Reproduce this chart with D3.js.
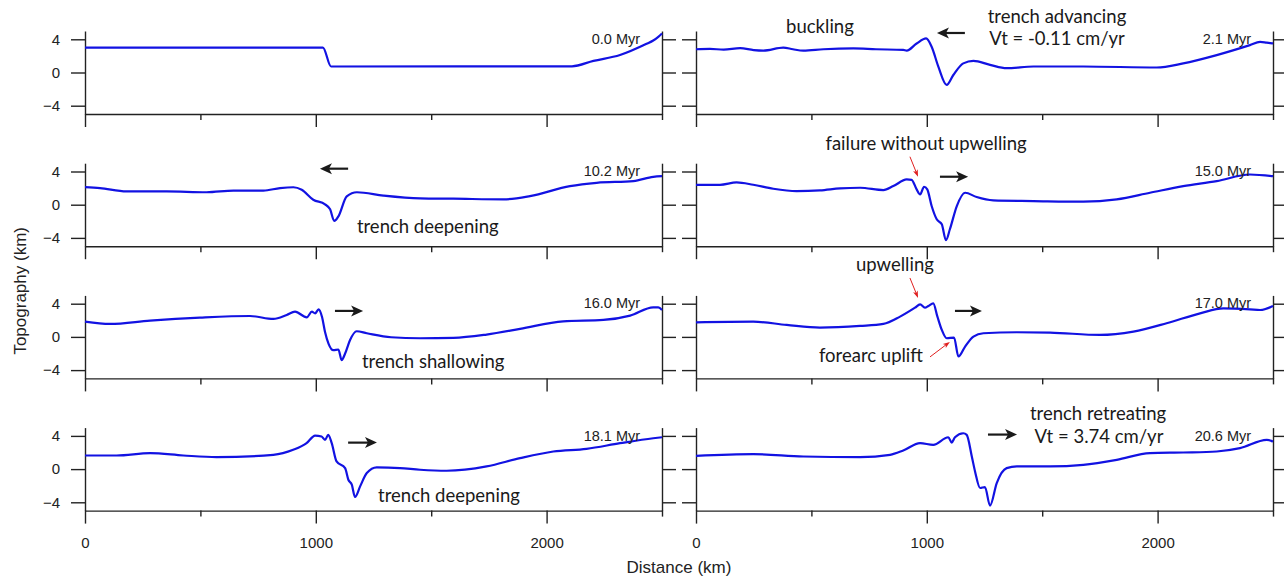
<!DOCTYPE html>
<html><head><meta charset="utf-8">
<script src="https://cdn.jsdelivr.net/npm/d3@7"></script>
<style>body{margin:0;background:#fff;} svg{display:block;}</style>
</head><body><svg id="c" width="1284" height="580"></svg>
<script>
// ---------- data ----------
const timeLabels = ["0.0 Myr","2.1 Myr","10.2 Myr","15.0 Myr","16.0 Myr","17.0 Myr","18.1 Myr","20.6 Myr"];
const yTicks = [-4, 0, 4];
const xMajorTicks = [0, 1000, 2000];
const xMinorTicks = [500, 1500, 2500];

const topo00 = [[0,3.0],[1031,3.0],[1066,0.72],[2110,0.75],[2203,1.4],[2318,2.1],[2433,3.45],[2462,3.85],[2484,4.3],[2500,4.7]];
const topo21 = [[0,2.8],[60,2.85],[120,2.75],[191,2.93],[250,2.7],[292,2.64],[378,3.0],[420,2.8],[465,2.64],[552,2.8],[682,2.9],[780,2.8],[898,2.72],[913,2.64],[956,3.5],[997,4.1],[1021,3.1],[1050,0.7],[1086,-1.5],[1115,-0.3],[1158,1.1],[1202,1.4],[1274,0.92],[1346,0.52],[1462,0.72],[1678,0.72],[1996,0.6],[2111,1.1],[2256,2.1],[2400,3.3],[2444,3.7],[2473,3.6],[2500,3.5]];
const topo102 = [[0,2.12],[65,2.0],[180,1.6],[354,1.6],[527,1.5],[643,1.7],[773,1.7],[845,2.0],[903,2.1],[939,1.8],[989,0.6],[1040,0.04],[1062,-0.56],[1080,-1.96],[1098,-1.4],[1134,1.0],[1178,1.5],[1293,1.1],[1452,0.76],[1596,0.72],[1812,0.64],[1928,1.04],[2101,2.24],[2217,2.64],[2376,2.84],[2462,3.36],[2500,3.44]];
const topo150 = [[0,2.4],[104,2.4],[176,2.68],[248,2.4],[335,1.92],[436,1.64],[537,1.72],[624,1.96],[711,2.04],[812,1.76],[855,2.24],[913,3.04],[934,3.0],[956,1.84],[971,1.24],[988,2.16],[1002,1.84],[1021,-0.16],[1043,-1.76],[1065,-2.36],[1083,-4.28],[1100,-2.96],[1130,-0.16],[1166,1.44],[1216,0.92],[1288,0.52],[1462,0.44],[1678,0.36],[1823,0.64],[1967,1.44],[2111,2.24],[2256,2.84],[2400,3.64],[2500,3.44]];
const topo160 = [[0,1.84],[108,1.56],[282,1.96],[498,2.32],[715,2.52],[816,2.16],[874,2.64],[910,3.04],[961,2.36],[983,3.04],[997,2.84],[1012,3.32],[1027,2.4],[1040,0.6],[1055,-0.8],[1076,-1.6],[1098,-1.52],[1112,-2.8],[1127,-2.0],[1148,-0.4],[1177,0.68],[1221,0.44],[1326,-0.04],[1452,-0.16],[1596,-0.12],[1740,0.28],[1885,0.96],[2072,1.88],[2246,2.04],[2362,2.56],[2462,3.56],[2484,3.56],[2500,3.24]];
const topo170 = [[0,1.76],[248,1.84],[393,1.44],[537,1.12],[711,1.32],[812,1.56],[884,2.44],[949,3.52],[971,3.92],[992,3.52],[1007,3.72],[1028,4.04],[1046,2.44],[1065,0.84],[1086,-0.16],[1118,-0.08],[1137,-2.36],[1166,-1.16],[1202,0.04],[1245,0.44],[1390,0.56],[1534,0.52],[1750,0.24],[1895,0.64],[2039,1.64],[2184,2.84],[2285,3.44],[2400,3.32],[2444,3.24],[2500,3.72]];
const topo181 = [[0,1.64],[137,1.64],[282,1.92],[426,1.64],[570,1.44],[816,1.72],[902,2.32],[960,3.12],[997,4.04],[1025,3.92],[1040,3.52],[1054,4.12],[1069,3.12],[1090,0.92],[1127,0.12],[1141,-1.28],[1156,-1.88],[1170,-3.36],[1192,-2.08],[1221,-0.48],[1264,0.2],[1365,0.12],[1452,-0.08],[1567,-0.2],[1740,0.32],[1885,1.32],[2029,2.12],[2173,2.44],[2318,3.12],[2462,3.72],[2500,3.84]];
const topo206 = [[0,1.6],[248,1.8],[465,1.52],[711,1.44],[841,1.72],[898,2.24],[971,3.12],[1028,2.92],[1093,3.84],[1108,3.2],[1122,3.84],[1158,4.32],[1173,4.12],[1195,1.52],[1209,-0.28],[1231,-2.28],[1252,-2.16],[1274,-4.4],[1303,-1.68],[1346,0.12],[1390,0.32],[1534,0.32],[1678,0.52],[1823,1.12],[1967,1.92],[2111,2.0],[2256,2.12],[2357,2.52],[2473,3.52],[2500,3.32]];
const profiles = [topo00, topo21, topo102, topo150, topo160, topo170, topo181, topo206];

// annotations in data coordinates (panel index, distance km, topography km)
const labels = [
  [1, 537, 4.76, "buckling", "middle"],
  [1, 1564, 5.95, "trench advancing", "middle"],
  [1, 1564, 3.35, "Vt = -0.11 cm/yr", "middle"],
  [2, 1178, -3.37, "trench deepening", "start"],
  [3, 997, 6.63, "failure without upwelling", "middle"],
  [4, 1200, -3.73, "trench shallowing", "start"],
  [5, 862, 7.95, "upwelling", "middle"],
  [5, 758, -3.0, "forearc uplift", "middle"],
  [6, 1270, -3.92, "trench deepening", "start"],
  [7, 1742, 5.95, "trench retreating", "middle"],
  [7, 1746, 3.15, "Vt = 3.74 cm/yr", "middle"]
];
const blackArrows = [
  [1, 1165, 1044, 4.76],
  [2, 1140, 1018, 4.34],
  [3, 1057, 1179, 3.37],
  [4, 1083, 1205, 3.13],
  [5, 1122, 1239, 3.13],
  [6, 1140, 1265, 3.19],
  [7, 1265, 1391, 4.16]
];
const redArrows = [
  [3, 927, 5.78, 962, 3.37],
  [5, 927, 7.1, 962, 4.7],
  [5, 1014, -2.41, 1100, -0.6]
];

// ---------- layout ----------
const colLeft = [85, 696], panelW = 577, panelH = 83;
const rowTop = [31, 163.2, 295.4, 427.6];
const xDomain = [0, 2500], yDomain = [-5, 5];
const axisColor = "#222", lineColor = "#1212e2";
const tickFont = "'Liberation Sans', Arial, sans-serif";
const annFont = "Lato, 'Open Sans', sans-serif";

const svg = d3.select("#c");
const scales = [];

profiles.forEach((data, i) => {
  const col = i % 2, row = Math.floor(i / 2);
  const x = d3.scaleLinear().domain(xDomain).range([colLeft[col], colLeft[col] + panelW]);
  const y = d3.scaleLinear().domain(yDomain).range([rowTop[row] + panelH, rowTop[row]]);
  scales.push({x, y});
  const g = svg.append("g");

  const la = g.append("g").attr("transform", `translate(${x(0)},0)`)
    .call(d3.axisLeft(y).tickValues(yTicks).tickSize(14).tickPadding(11).tickSizeOuter(0)
      .tickFormat(col === 0 ? (d => d3.format("d")(d)) : ""));
  const ra = g.append("g").attr("transform", `translate(${x(2500)},0)`)
    .call(d3.axisRight(y).tickValues(yTicks).tickSize(14).tickSizeOuter(0).tickFormat(""));
  const ba = g.append("g").attr("transform", `translate(0,${y(-5)})`)
    .call(d3.axisBottom(x).tickValues(xMajorTicks).tickSize(13).tickPadding(14).tickSizeOuter(0)
      .tickFormat(row === 3 ? (d => d) : ""));
  const bm = g.append("g").attr("transform", `translate(0,${y(-5)})`)
    .call(d3.axisBottom(x).tickValues(xMinorTicks).tickSize(6).tickSizeOuter(0).tickFormat(""));
  bm.select(".domain").remove();
  [la, ra, ba, bm].forEach(a => {
    a.selectAll("path,line").attr("stroke", axisColor).attr("stroke-width", 1.4);
    a.selectAll("text").attr("fill", axisColor).style("font-family", tickFont).style("font-size", "15px");
  });

  g.append("path").datum(data)
    .attr("fill", "none").attr("stroke", lineColor).attr("stroke-width", 2.2)
    .attr("stroke-linejoin", "round")
    .attr("d", d3.line().x(d => x(d[0])).y(d => y(d[1])).curve(d3.curveMonotoneX));

  g.append("text").attr("x", x(2405)).attr("y", y(3.43))
    .attr("text-anchor", "end").attr("fill", "#222")
    .style("font-family", tickFont).style("font-size", "14.5px")
    .text(timeLabels[i]);
});

labels.forEach(([p, dx, dy, t, anchor]) => {
  const {x, y} = scales[p];
  svg.append("text").attr("x", x(dx)).attr("y", y(dy)).attr("text-anchor", anchor)
    .attr("fill", "#1a1a1a").style("font-family", annFont).style("font-size", "18.5px").text(t);
});

function arrow(x1, y1, x2, y2, color, width, headLen, headW) {
  const ang = Math.atan2(y2 - y1, x2 - x1);
  const bx = x2 - headLen * Math.cos(ang), by = y2 - headLen * Math.sin(ang);
  svg.append("line").attr("x1", x1).attr("y1", y1)
    .attr("x2", x2 - headLen * 0.6 * Math.cos(ang)).attr("y2", y2 - headLen * 0.6 * Math.sin(ang))
    .attr("stroke", color).attr("stroke-width", width);
  const px = -Math.sin(ang), py = Math.cos(ang);
  const nx = x2 - headLen * 0.75 * Math.cos(ang), ny = y2 - headLen * 0.75 * Math.sin(ang);
  svg.append("path")
    .attr("d", `M${x2},${y2} L${bx + px * headW / 2},${by + py * headW / 2} L${nx},${ny} L${bx - px * headW / 2},${by - py * headW / 2} Z`)
    .attr("fill", color);
}
blackArrows.forEach(([p, x1, x2, yy]) => {
  const {x, y} = scales[p];
  arrow(x(x1), y(yy), x(x2), y(yy), "#1a1a1a", 2.2, 12, 11);
});
redArrows.forEach(([p, x1, y1, x2, y2]) => {
  const {x, y} = scales[p];
  arrow(x(x1), y(y1), x(x2), y(y2), "#e02020", 1, 7, 5);
});

svg.append("text").attr("x", (colLeft[0] + colLeft[1] + panelW) / 2).attr("y", 573)
  .attr("text-anchor", "middle").attr("fill", "#222")
  .style("font-family", tickFont).style("font-size", "17px").text("Distance (km)");
svg.append("text").attr("transform", `translate(26,${(rowTop[0] + rowTop[3] + panelH) / 2 + 20}) rotate(-90)`)
  .attr("text-anchor", "middle").attr("fill", "#222")
  .style("font-family", tickFont).style("font-size", "17px").text("Topography (km)");
</script>
</body></html>
